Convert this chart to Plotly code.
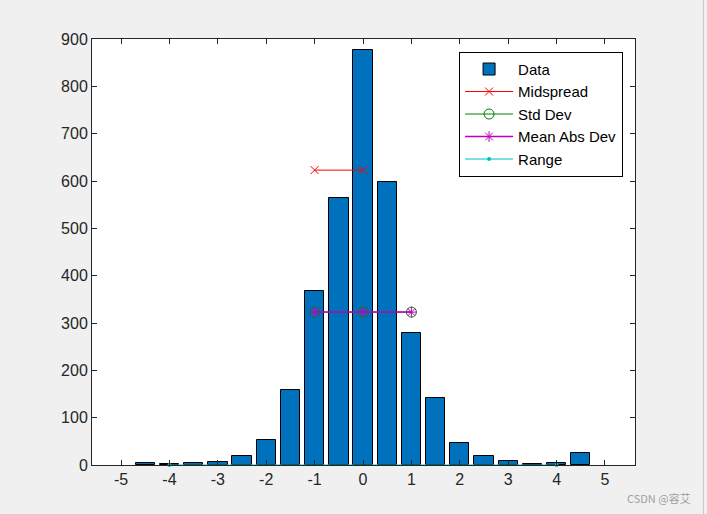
import plotly.graph_objects as go

bin_centers = [-4.5, -4.0, -3.5, -3.0, -2.5, -2.0, -1.5, -1.0, -0.5, 0.0,
               0.5, 1.0, 1.5, 2.0, 2.5, 3.0, 3.5, 4.0, 4.5]
counts = [4, 2, 4, 6, 19, 53, 159, 367, 565, 876,
          598, 278, 142, 46, 20, 8, 2, 4, 25]

midspread_x = [-1, 0]
midspread_y = [623, 623]
std_x = [-1, 0, 1]
std_y = [323, 323, 323]
mad_x = [-1, 0, 1]
mad_y = [323, 323, 323]
range_x = [-4, 4]
range_y = [0, 0]

x_ticks = [-5, -4, -3, -2, -1, 0, 1, 2, 3, 4, 5]
y_ticks = [0, 100, 200, 300, 400, 500, 600, 700, 800, 900]

fig = go.Figure()
fig.add_trace(go.Bar(x=bin_centers, y=counts, width=0.4, name="Data",
                     marker=dict(color="#0072BD", line=dict(color="black", width=1))))
fig.add_trace(go.Scatter(x=midspread_x, y=midspread_y, mode="lines+markers", name="Midspread",
                         line=dict(color="#FF0000", width=1),
                         marker=dict(symbol="x-thin-open", size=8, color="#FF0000",
                                     line=dict(color="#FF0000", width=1))))
fig.add_trace(go.Scatter(x=std_x, y=std_y, mode="lines+markers", name="Std Dev",
                         line=dict(color="#008000", width=1),
                         marker=dict(symbol="circle-open", size=10, color="#008000",
                                     line=dict(color="#008000", width=1))))
fig.add_trace(go.Scatter(x=mad_x, y=mad_y, mode="lines+markers", name="Mean Abs Dev",
                         line=dict(color="#BF00BF", width=1.5),
                         marker=dict(symbol="asterisk-open", size=9, color="#BF00BF",
                                     line=dict(color="#BF00BF", width=1))))
fig.add_trace(go.Scatter(x=range_x, y=range_y, mode="lines+markers", name="Range",
                         line=dict(color="#00BFBF", width=1),
                         marker=dict(symbol="circle", size=4, color="#00BFBF"),
                         cliponaxis=False))

fig.update_layout(
    width=707, height=514,
    margin=dict(l=92, r=72, t=39, b=49),
    paper_bgcolor="#F0F0F0", plot_bgcolor="white",
    font=dict(family="Liberation Sans, Arial, sans-serif", size=16, color="#262626"),
    showlegend=True,
    legend=dict(x=0.676, y=0.97, xanchor="left", yanchor="top",
                bgcolor="white", bordercolor="black", borderwidth=1,
                font=dict(size=15, color="black"), tracegroupgap=0,
                itemwidth=48),
    bargap=0,
)
fig.update_xaxes(range=[-5.6, 5.62], tickvals=x_ticks, ticktext=[str(v) for v in x_ticks],
                 ticks="inside", ticklen=5, tickcolor="#262626", showline=True,
                 linecolor="#262626", linewidth=1, mirror="ticks", showgrid=False,
                 zeroline=False)
fig.update_yaxes(range=[0, 900], tickvals=y_ticks, ticktext=[str(v) for v in y_ticks],
                 ticks="inside", ticklen=5, tickcolor="#262626", showline=True,
                 linecolor="#262626", linewidth=1, mirror="ticks", showgrid=False,
                 zeroline=False)

fig.add_annotation(text="CSDN @容艾", xref="paper", yref="paper", x=1.0, y=0, xshift=58,
                   yshift=-33, xanchor="right", yanchor="middle", showarrow=False,
                   font=dict(family="Noto Sans CJK SC, sans-serif", size=11, color="#A0A0A0"))
fig.add_shape(type="line", xref="paper", yref="paper", x0=1.126, x1=1.126, y0=-0.2, y1=1.2,
              line=dict(color="#C8C8C8", width=1))

fig.write_html("out.html")
